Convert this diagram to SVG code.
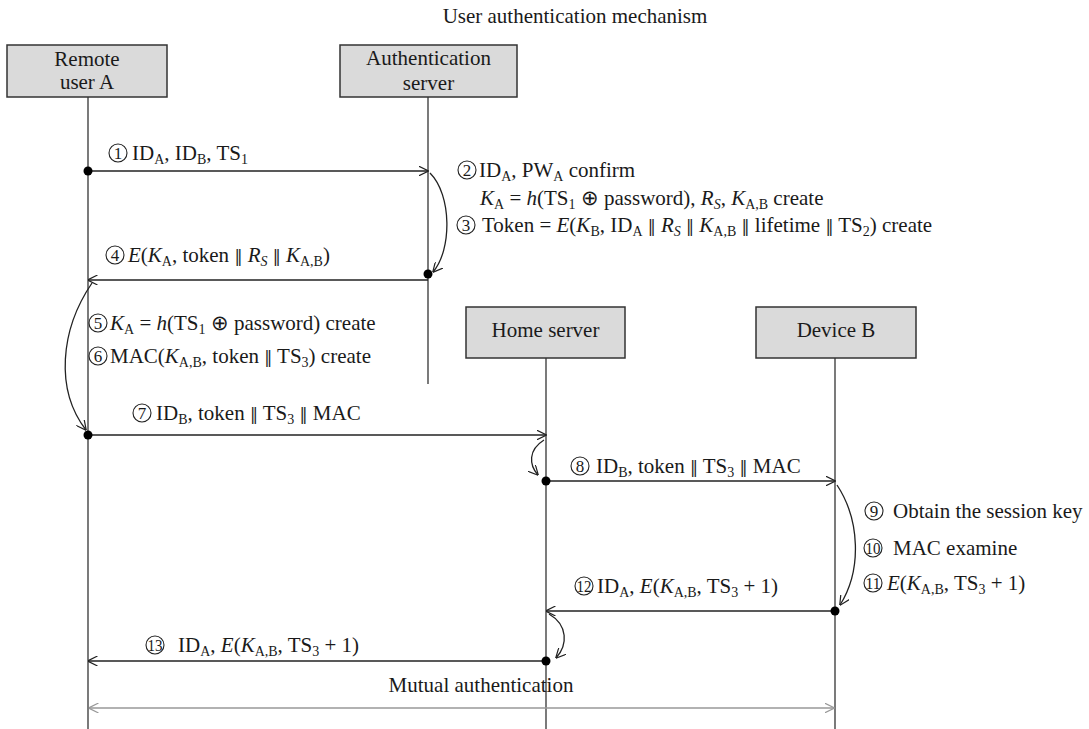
<svg xmlns="http://www.w3.org/2000/svg" width="1089" height="729" viewBox="0 0 1089 729">
<style>
text{font-family:"Liberation Serif","Times New Roman",serif;font-size:21px;fill:#1a1a1a}
.c{text-anchor:middle}
.i{font-style:italic}
.s{font-size:14px;baseline-shift:-4px}
.p{font-family:"DejaVu Serif",serif;font-size:16px}
.n{font-size:17px;text-anchor:middle}
.box{fill:#dadada;stroke:#333;stroke-width:1.5}
.life{stroke:#333;stroke-width:1.3;fill:none}
.msg{stroke:#222;stroke-width:1.5;fill:none;marker-end:url(#open)}
.cur{stroke:#222;stroke-width:1.3;fill:none;marker-end:url(#open)}
.num{fill:none;stroke:#222;stroke-width:1.1}
.dot{fill:#000}
</style>
<defs>
<marker id="open" viewBox="0 0 10 10" refX="9.5" refY="5" markerWidth="10" markerHeight="10" markerUnits="userSpaceOnUse" orient="auto">
<path d="M0,0 L10,5 L0,10" fill="none" stroke="#222" stroke-width="1.2"/>
</marker>
<marker id="grey" viewBox="0 0 10 10" refX="9.5" refY="5" markerWidth="10" markerHeight="10" markerUnits="userSpaceOnUse" orient="auto-start-reverse">
<path d="M0,0 L10,5 L0,10" fill="none" stroke="#999" stroke-width="1.2"/>
</marker>
</defs>
<rect width="1089" height="729" fill="#fff"/>
<text class="c" x="575" y="23">User authentication mechanism</text>

<g id="userA">
<rect class="box" x="7" y="45" width="160" height="52"/>
<text class="c" x="87" y="66">Remote</text>
<text class="c" x="87" y="89">user A</text>
<line class="life" x1="88" y1="97" x2="88" y2="729"/>
</g>
<g id="authServer">
<rect class="box" x="340" y="45" width="177" height="52"/>
<text class="c" x="428.5" y="65">Authentication</text>
<text class="c" x="428.5" y="90">server</text>
<line class="life" x1="428" y1="97" x2="428" y2="384"/>
</g>
<g id="homeServer">
<rect class="box" x="466" y="307" width="159" height="51"/>
<text class="c" x="545.5" y="337">Home server</text>
<line class="life" x1="546" y1="358" x2="546" y2="729"/>
</g>
<g id="deviceB">
<rect class="box" x="756" y="307" width="160" height="51"/>
<text class="c" x="836" y="337">Device B</text>
<line class="life" x1="835" y1="358" x2="835" y2="729"/>
</g>

<g id="connectors">
<line class="msg" x1="88" y1="171" x2="428" y2="171"/>
<path class="cur" d="M430,173 C452,195 452,250 433,272"/>
<line class="msg" x1="428" y1="280" x2="88" y2="280"/>
<path class="cur" d="M92,283 C60,330 55,390 86,430"/>
<line class="msg" x1="88" y1="435" x2="546" y2="435"/>
<path class="cur" d="M544,440 C528,450 529,465 538,475"/>
<line class="msg" x1="546" y1="481" x2="835" y2="481"/>
<path class="cur" d="M837,485 C860,520 862,570 840,605"/>
<line class="msg" x1="835" y1="611" x2="546" y2="611"/>
<path class="cur" d="M549,614 C568,625 568,645 556,658"/>
<line class="msg" x1="546" y1="661" x2="88" y2="661"/>
<line x1="89" y1="708" x2="834" y2="708" stroke="#999" stroke-width="1.3" marker-start="url(#grey)" marker-end="url(#grey)"/>
<circle class="dot" cx="88" cy="171" r="4.5"/>
<circle class="dot" cx="428" cy="274" r="4.5"/>
<circle class="dot" cx="88" cy="435" r="4.5"/>
<circle class="dot" cx="546" cy="481" r="4.5"/>
<circle class="dot" cx="835" cy="611" r="4.5"/>
<circle class="dot" cx="546" cy="661" r="4.5"/>
</g>

<g id="labels">
<circle class="num" cx="118" cy="153" r="9"/><text class="n" x="118" y="159">1</text>
<text x="132" y="160">ID<tspan class="s">A</tspan>, ID<tspan class="s">B</tspan>, TS<tspan class="s">1</tspan></text>

<circle class="num" cx="467" cy="170" r="9"/><text class="n" x="467" y="176">2</text>
<text x="479" y="177">ID<tspan class="s">A</tspan>, PW<tspan class="s">A</tspan> confirm</text>
<text x="480" y="205"><tspan class="i">K</tspan><tspan class="s">A</tspan> = <tspan class="i">h</tspan>(TS<tspan class="s">1</tspan> ⊕ password), <tspan class="i">R</tspan><tspan class="s i">S</tspan>, <tspan class="i">K</tspan><tspan class="s">A,B</tspan> create</text>
<circle class="num" cx="466" cy="225" r="9"/><text class="n" x="466" y="231">3</text>
<text x="482" y="232">Token = <tspan class="i">E</tspan>(<tspan class="i">K</tspan><tspan class="s">B</tspan>, ID<tspan class="s">A</tspan> <tspan class="p">‖</tspan> <tspan class="i">R</tspan><tspan class="s i">S</tspan> <tspan class="p">‖</tspan> <tspan class="i">K</tspan><tspan class="s">A,B</tspan> <tspan class="p">‖</tspan> lifetime <tspan class="p">‖</tspan> TS<tspan class="s">2</tspan>) create</text>

<circle class="num" cx="115" cy="255" r="9"/><text class="n" x="115" y="261">4</text>
<text x="128" y="262"><tspan class="i">E</tspan>(<tspan class="i">K</tspan><tspan class="s">A</tspan>, token <tspan class="p">‖</tspan> <tspan class="i">R</tspan><tspan class="s i">S</tspan> <tspan class="p">‖</tspan> <tspan class="i">K</tspan><tspan class="s">A,B</tspan>)</text>

<circle class="num" cx="98" cy="323" r="9"/><text class="n" x="98" y="329">5</text>
<text x="110" y="330"><tspan class="i">K</tspan><tspan class="s">A</tspan> = <tspan class="i">h</tspan>(TS<tspan class="s">1</tspan> ⊕ password) create</text>
<circle class="num" cx="98" cy="356" r="9"/><text class="n" x="98" y="362">6</text>
<text x="110" y="363">MAC(<tspan class="i">K</tspan><tspan class="s">A,B</tspan>, token <tspan class="p">‖</tspan> TS<tspan class="s">3</tspan>) create</text>

<circle class="num" cx="142" cy="413" r="9"/><text class="n" x="142" y="419">7</text>
<text x="156" y="420">ID<tspan class="s">B</tspan>, token <tspan class="p">‖</tspan> TS<tspan class="s">3</tspan> <tspan class="p">‖</tspan> MAC</text>

<circle class="num" cx="580" cy="466" r="9"/><text class="n" x="580" y="472">8</text>
<text x="596" y="473">ID<tspan class="s">B</tspan>, token <tspan class="p">‖</tspan> TS<tspan class="s">3</tspan> <tspan class="p">‖</tspan> MAC</text>

<circle class="num" cx="874" cy="511" r="9"/><text class="n" x="874" y="517">9</text>
<text x="893" y="518">Obtain the session key</text>
<circle class="num" cx="873" cy="548" r="9"/><text class="n" x="873" y="554" textLength="15" lengthAdjust="spacingAndGlyphs">10</text>
<text x="893" y="555">MAC examine</text>
<circle class="num" cx="873" cy="583" r="9"/><text class="n" x="873" y="589" textLength="15" lengthAdjust="spacingAndGlyphs">11</text>
<text x="887" y="590"><tspan class="i">E</tspan>(<tspan class="i">K</tspan><tspan class="s">A,B</tspan>, TS<tspan class="s">3</tspan> + 1)</text>

<circle class="num" cx="584" cy="586" r="9"/><text class="n" x="584" y="592" textLength="15" lengthAdjust="spacingAndGlyphs">12</text>
<text x="597" y="593">ID<tspan class="s">A</tspan>, <tspan class="i">E</tspan>(<tspan class="i">K</tspan><tspan class="s">A,B</tspan>, TS<tspan class="s">3</tspan> + 1)</text>

<circle class="num" cx="155" cy="645" r="9"/><text class="n" x="155" y="651" textLength="15" lengthAdjust="spacingAndGlyphs">13</text>
<text x="178" y="652">ID<tspan class="s">A</tspan>, <tspan class="i">E</tspan>(<tspan class="i">K</tspan><tspan class="s">A,B</tspan>, TS<tspan class="s">3</tspan> + 1)</text>

<text class="c" x="481" y="692">Mutual authentication</text>
</g>
</svg>
